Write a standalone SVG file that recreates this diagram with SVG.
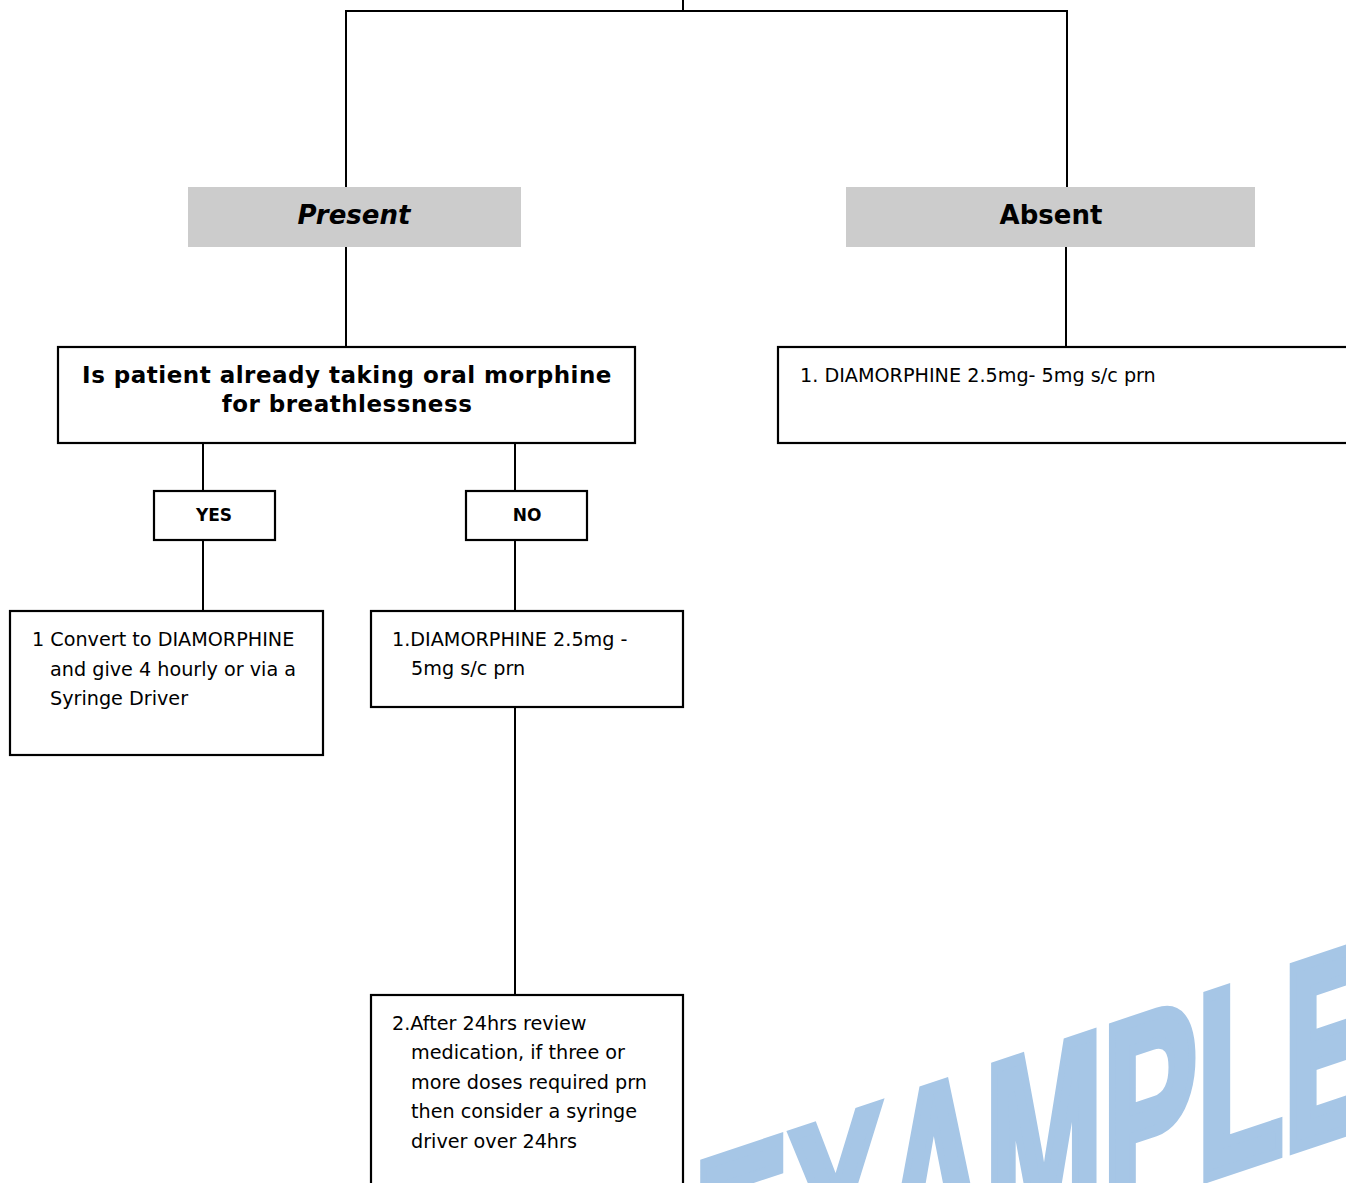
<svg xmlns="http://www.w3.org/2000/svg" width="1346" height="1183" viewBox="0 0 1346 1183">
<style>
.box{fill:#ffffff;stroke:#000000;stroke-width:2.2}
.hdr{fill:#cccccc;stroke:none}
.ln{stroke:#000000;stroke-width:2;fill:none}
.hd{font-family:"DejaVu Sans",Verdana,sans-serif;font-weight:bold;font-size:26px;fill:#000;text-anchor:middle}
.q{font-family:"DejaVu Sans",Verdana,sans-serif;font-weight:bold;font-size:23px;letter-spacing:0.5px;fill:#000;text-anchor:middle}
.yn{font-family:"DejaVu Sans",Verdana,sans-serif;font-weight:bold;font-size:17px;fill:#000;text-anchor:middle}
.t{font-family:"DejaVu Sans",Verdana,sans-serif;font-size:19.2px;fill:#000}
.wm{font-family:"Liberation Sans",Arial,sans-serif;font-weight:bold;font-size:262px;fill:#a6c6e6;stroke:#a6c6e6;stroke-width:12;stroke-linejoin:miter}
</style>
<rect width="1346" height="1183" fill="#ffffff"/>
<g id="watermark">
<text class="wm" transform="matrix(0.54 -0.18 0 1 694 1348)">EXAMPLE</text>
</g>
<g id="connectors">
<line class="ln" x1="683" y1="0" x2="683" y2="11"/>
<polyline class="ln" points="346,187 346,11 1067,11 1067,187"/>
<line class="ln" x1="346" y1="247" x2="346" y2="347"/>
<line class="ln" x1="1066" y1="247" x2="1066" y2="347"/>
<line class="ln" x1="203" y1="443" x2="203" y2="491"/>
<line class="ln" x1="515" y1="443" x2="515" y2="491"/>
<line class="ln" x1="203" y1="540" x2="203" y2="611" stroke-width="3"/>
<line class="ln" x1="515" y1="540" x2="515" y2="611"/>
<line class="ln" x1="515" y1="707" x2="515" y2="995"/>
</g>
<g id="present">
<rect class="hdr" x="188" y="187" width="333" height="60"/>
<text class="hd" x="354" y="224" font-style="italic">Present</text>
</g>
<g id="absent">
<rect class="hdr" x="846" y="187" width="409" height="60"/>
<text class="hd" x="1051" y="224">Absent</text>
</g>
<g id="question">
<rect class="box" x="58" y="347" width="577" height="96"/>
<text class="q" x="347" y="383">Is patient already taking oral morphine</text>
<text class="q" x="347" y="412">for breathlessness</text>
</g>
<g id="absent-action">
<rect class="box" x="778" y="347" width="580" height="96"/>
<text class="t" x="800" y="382">1. DIAMORPHINE 2.5mg- 5mg s/c prn</text>
</g>
<g id="yes">
<rect class="box" x="154" y="491" width="121" height="49"/>
<text class="yn" x="214" y="521">YES</text>
</g>
<g id="no">
<rect class="box" x="466" y="491" width="121" height="49"/>
<text class="yn" x="527" y="521">NO</text>
</g>
<g id="yes-action">
<rect class="box" x="10" y="611" width="313" height="144"/>
<text class="t" x="32" y="646">1 Convert to DIAMORPHINE</text>
<text class="t" x="50" y="676">and give 4 hourly or via a</text>
<text class="t" x="50" y="705">Syringe Driver</text>
</g>
<g id="no-action1">
<rect class="box" x="371" y="611" width="312" height="96"/>
<text class="t" x="392" y="646">1.DIAMORPHINE 2.5mg -</text>
<text class="t" x="411" y="675">5mg s/c prn</text>
</g>
<g id="no-action2">
<rect class="box" x="371" y="995" width="312" height="200"/>
<text class="t" x="392" y="1030">2.After 24hrs review</text>
<text class="t" x="411" y="1059">medication, if three or</text>
<text class="t" x="411" y="1089">more doses required prn</text>
<text class="t" x="411" y="1118">then consider a syringe</text>
<text class="t" x="411" y="1148">driver over 24hrs</text>
</g>
</svg>
